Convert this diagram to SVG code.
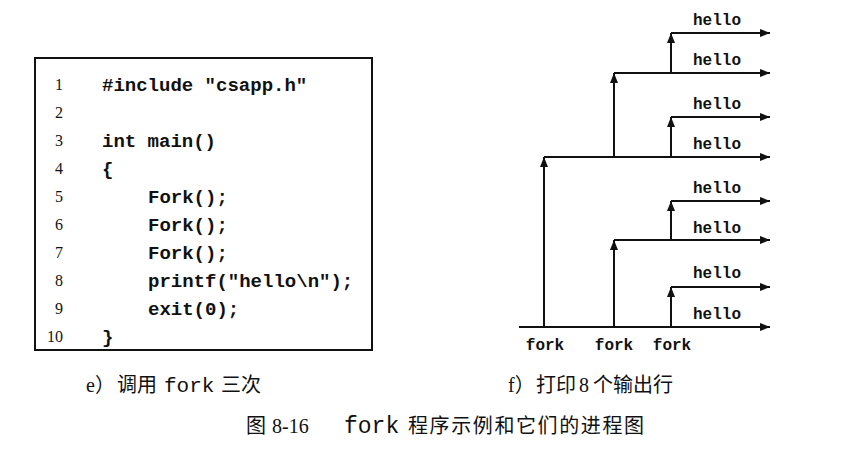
<svg xmlns="http://www.w3.org/2000/svg" width="859" height="450" viewBox="0 0 859 450">
<defs>
<style>
.code{font-family:"Liberation Mono",monospace;font-weight:bold;font-size:19px;fill:#111}
.ln{font-family:"Liberation Serif",serif;font-size:16px;fill:#111;text-anchor:end}
.lbl{font-family:"Liberation Mono",monospace;font-weight:bold;font-size:16px;fill:#111;text-anchor:middle}
.cj{font-family:"Liberation Serif","Noto Sans CJK SC",serif;font-size:20px;fill:#111}
.mono{font-family:"Liberation Mono",monospace}
.ln2{stroke:#111;stroke-width:2;fill:none}
</style>
<marker id="ah" viewBox="0 0 10 8" refX="10" refY="4" markerWidth="10" markerHeight="8" markerUnits="userSpaceOnUse" orient="auto">
<path d="M0,0 L10,4 L0,8 Z" fill="#111"/>
</marker>
</defs>
<rect width="859" height="450" fill="#fff"/>
<g id="code-box">
<rect x="35" y="58" width="337" height="292" fill="none" stroke="#111" stroke-width="2"/>
<text class="ln" x="63" y="90">1</text>
<text class="ln" x="63" y="118">2</text>
<text class="ln" x="63" y="146">3</text>
<text class="ln" x="63" y="174">4</text>
<text class="ln" x="63" y="202">5</text>
<text class="ln" x="63" y="230">6</text>
<text class="ln" x="63" y="258">7</text>
<text class="ln" x="63" y="286">8</text>
<text class="ln" x="63" y="314">9</text>
<text class="ln" x="63" y="342">10</text>
<text class="code" x="102" y="91">#include "csapp.h"</text>
<text class="code" x="102" y="147">int main()</text>
<text class="code" x="102" y="175">{</text>
<text class="code" x="148" y="203">Fork();</text>
<text class="code" x="148" y="231">Fork();</text>
<text class="code" x="148" y="259">Fork();</text>
<text class="code" x="148" y="287">printf("hello\n");</text>
<text class="code" x="148" y="315">exit(0);</text>
<text class="code" x="102" y="343">}</text>
</g>
<g id="connectors">
<path class="ln2" d="M519,327 H770" marker-end="url(#ah)"/>
<path class="ln2" d="M544,157 H770" marker-end="url(#ah)"/>
<path class="ln2" d="M614,240 H770" marker-end="url(#ah)"/>
<path class="ln2" d="M614,73 H770" marker-end="url(#ah)"/>
<path class="ln2" d="M671,287 H770" marker-end="url(#ah)"/>
<path class="ln2" d="M671,201 H770" marker-end="url(#ah)"/>
<path class="ln2" d="M671,117 H770" marker-end="url(#ah)"/>
<path class="ln2" d="M671,33 H770" marker-end="url(#ah)"/>
<path class="ln2" d="M544,327 V157" marker-end="url(#ah)"/>
<path class="ln2" d="M614,327 V240" marker-end="url(#ah)"/>
<path class="ln2" d="M614,157 V73" marker-end="url(#ah)"/>
<path class="ln2" d="M671,327 V287" marker-end="url(#ah)"/>
<path class="ln2" d="M671,240 V201" marker-end="url(#ah)"/>
<path class="ln2" d="M671,157 V117" marker-end="url(#ah)"/>
<path class="ln2" d="M671,73 V33" marker-end="url(#ah)"/>
</g>
<g id="labels">
<text class="lbl" x="717" y="25">hello</text>
<text class="lbl" x="717" y="65">hello</text>
<text class="lbl" x="717" y="109">hello</text>
<text class="lbl" x="717" y="149">hello</text>
<text class="lbl" x="717" y="193">hello</text>
<text class="lbl" x="717" y="233">hello</text>
<text class="lbl" x="717" y="278">hello</text>
<text class="lbl" x="717" y="319">hello</text>
<text class="lbl" x="545" y="350">fork</text>
<text class="lbl" x="614" y="350">fork</text>
<text class="lbl" x="672" y="350">fork</text>
</g>
<g id="captions">
<text class="cj" y="392"><tspan x="86">e）</tspan><tspan x="117">调用</tspan><tspan x="164" class="mono" font-size="21">fork</tspan><tspan x="221">三次</tspan></text>
<text class="cj" y="392"><tspan x="508">f）</tspan><tspan x="536">打印</tspan><tspan x="579">8</tspan><tspan x="593">个输出行</tspan></text>
<text class="cj" y="433" font-size="22"><tspan x="246">图</tspan><tspan x="272">8-16</tspan><tspan x="344" class="mono" font-size="23">fork</tspan><tspan x="408" letter-spacing="1.6">程序示例和它们的进程图</tspan></text>
</g>
</svg>
